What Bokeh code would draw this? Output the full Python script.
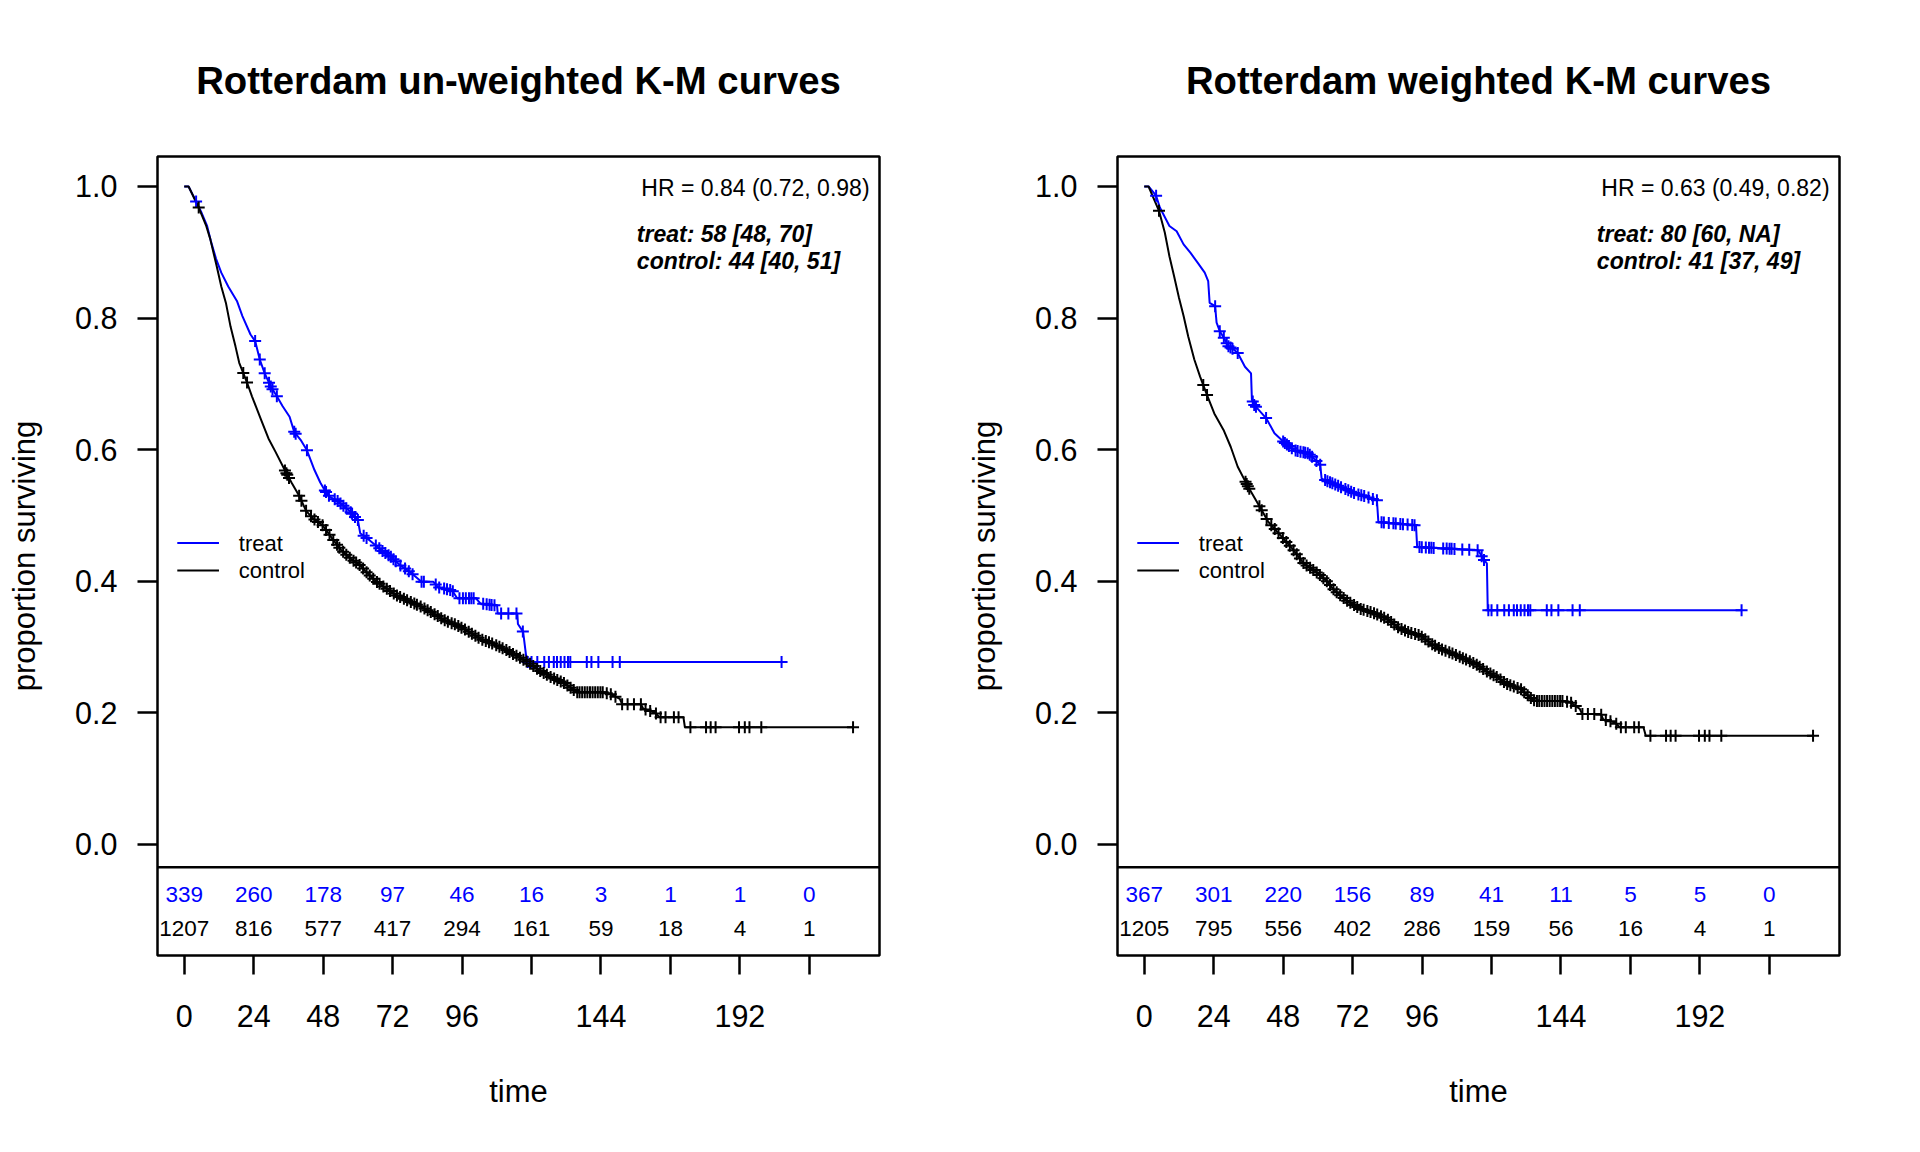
import numpy as np
from bokeh.plotting import figure
from bokeh.models import Range1d, FixedTicker, Span, NumeralTickFormatter
from bokeh.layouts import row
from bokeh.embed import file_html
from bokeh.resources import INLINE
from bokeh.core.properties import value

FONT = "Liberation Sans"

# ---------------- data ----------------
x_ticks = [0, 24, 48, 72, 96, 120, 144, 168, 192, 216]
y_ticks = [0.0, 0.2, 0.4, 0.6, 0.8, 1.0]
risk_times = [0, 24, 48, 72, 96, 120, 144, 168, 192, 216]

# left panel: un-weighted
lt_time = [0, 1.5, 4, 6, 7.9, 9.2, 11, 12.8, 15.2, 18.2, 20.1, 22.9, 24.5, 26.1, 27.8, 29.9, 32.0, 34, 36.4,
           38.0, 40.2, 42.4, 45.0, 47, 48.6, 50.3, 52.7, 56.8, 60.0, 60.8, 64.1, 68.2, 71.4, 74.7, 78.0, 82.0,
           86.1, 87.7, 92.6, 94.3, 100.8, 102.4, 108.1, 108.3, 115.1, 115.3, 117.1, 118.4, 206.4]
lt_surv = [1.0, 1.0, 0.978, 0.96, 0.94, 0.917, 0.89, 0.869, 0.848, 0.826, 0.803, 0.775, 0.765, 0.737, 0.716,
           0.696, 0.681, 0.666, 0.650, 0.627, 0.615, 0.599, 0.569, 0.55, 0.538, 0.528, 0.523, 0.508, 0.493,
           0.473, 0.462, 0.447, 0.437, 0.424, 0.414, 0.399, 0.399, 0.391, 0.386, 0.374, 0.374, 0.366, 0.363,
           0.351, 0.351, 0.335, 0.323, 0.277, 0.277]
lt_cens = [4.1, 24.5, 26.1, 27.8, 29.3, 29.9, 30.5, 32.0, 38.0, 38.5, 42.4, 48.6, 49.0, 50.0, 52.0, 53.0, 54.0,
           55.0, 56.0, 57.5, 58.0, 59.0, 60.0, 62.0, 63.0, 66.2, 67.4, 68.5, 69.5, 70.6, 71.4, 72.3, 73.1, 74.7,
           76.3, 77.6, 78.9, 82.0, 82.8, 86.9, 88.1, 89.8, 90.8, 91.9, 92.8, 95.1, 96.3, 97.3, 98.4, 99.2, 100.0,
           103.3, 104.5, 105.5, 106.2, 107.2, 109.5, 112.0, 114.8, 117.0, 118.7, 120.0, 122.0, 124.4, 126.0,
           127.7, 128.8, 130.1, 131.4, 132.6, 133.4, 139.1, 140.7, 143.1, 148.0, 150.5, 206.4]

lc_time = [0, 1.5, 5.0, 7.6, 9.0, 11.2, 12.8, 14.4, 16.0, 17.7, 19.0, 21.7, 23.4, 26.6, 29.1, 31.5, 35.3, 37.2,
           39.7, 42.1, 44.6, 47.8, 51.1, 54.3, 57.6, 60.8, 63.3, 66.5, 69.8, 73.1, 77.1, 82.0, 86.1, 90.2, 94.3,
           98.4, 102.4, 106.5, 110.6, 114.6, 118.7, 122.8, 126.8, 130.9, 134.2, 135.8, 144.8, 147.5, 150.5,
           151.3, 157.8, 158.6, 162.7, 164.3, 172.5, 173.0, 231.1]
lc_surv = [1.0, 1.0, 0.968, 0.94, 0.92, 0.879, 0.848, 0.823, 0.787, 0.757, 0.732, 0.702, 0.681, 0.645, 0.617,
           0.597, 0.564, 0.549, 0.530, 0.507, 0.495, 0.485, 0.465, 0.447, 0.434, 0.424, 0.412, 0.399, 0.389,
           0.379, 0.371, 0.361, 0.351, 0.340, 0.333, 0.323, 0.312, 0.305, 0.297, 0.287, 0.277, 0.264, 0.254,
           0.246, 0.236, 0.231, 0.231, 0.228, 0.221, 0.213, 0.213, 0.206, 0.200, 0.193, 0.193, 0.178, 0.178]
lc_cens = [5.0, 20.4, 21.7, 34.8, 35.3, 35.6, 36.2, 39.7, 40.5, 42.1, 43.8, 45.0, 46.2, 47.8, 49.0, 50.2, 51.5,
           52.8, 53.6, 54.9, 56.0, 57.2, 58.5, 59.4, 60.6, 61.8, 63.0, 64.1, 65.3, 66.6, 67.5, 68.8, 70.0, 71.1,
           72.4, 73.5, 74.6, 75.9, 77.0, 78.3, 79.5, 80.4, 81.7, 83.0, 84.1, 85.2, 86.5, 87.6, 88.8, 90.0, 91.1,
           92.4, 93.5, 94.7, 95.8, 97.0, 98.3, 99.4, 100.6, 101.7, 103.0, 104.2, 105.3, 106.4, 107.8, 108.9,
           110.0, 111.3, 112.4, 113.6, 114.8, 116.0, 117.2, 118.3, 119.5, 120.6, 121.9, 123.0, 124.2, 125.3,
           126.6, 127.8, 128.9, 130.1, 131.2, 132.4, 133.5, 134.6, 135.8, 136.6, 137.5, 138.4, 139.3, 140.2,
           141.1, 142.0, 142.9, 143.8, 144.6, 146.0, 147.4, 149.0, 151.3, 153.2, 155.4, 157.8, 159.4, 161.0,
           163.0, 164.6, 166.3, 169.2, 170.8, 174.9, 180.3, 181.9, 183.6, 191.7, 193.7, 195.3, 199.4, 231.1]

l_risk_treat = [339, 260, 178, 97, 46, 16, 3, 1, 1, 0]
l_risk_ctrl = [1207, 816, 577, 417, 294, 161, 59, 18, 4, 1]

# right panel: weighted
rt_time = [0, 1.5, 4.1, 5.4, 8.7, 11.2, 13.6, 16.0, 18.5, 20.9, 22.1, 22.6, 24.5, 25.0, 26.1, 27.5, 29.1, 31.0,
           32.3, 34.8, 36.9, 37.2, 38.0, 42.1, 45.0, 48.6, 51.9, 56.8, 59.2, 60.8, 61.3, 64.9, 69.0, 73.1, 77.1,
           80.4, 80.9, 93.9, 94.3, 115.4, 117.1, 118.4, 118.7, 206.4]
rt_surv = [1.0, 1.0, 0.986, 0.968, 0.94, 0.932, 0.912, 0.899, 0.884, 0.869, 0.856, 0.823, 0.818, 0.793, 0.780,
           0.770, 0.757, 0.752, 0.747, 0.726, 0.716, 0.676, 0.668, 0.648, 0.625, 0.610, 0.599, 0.594, 0.584,
           0.577, 0.556, 0.549, 0.541, 0.533, 0.528, 0.523, 0.490, 0.485, 0.452, 0.447, 0.434, 0.427, 0.356,
           0.356]
rt_cens = [4.1, 24.5, 26.1, 27.5, 28.5, 29.1, 29.8, 30.5, 32.3, 37.5, 38.0, 38.6, 42.1, 48.0, 48.6, 49.3, 50.0,
           51.0, 52.3, 53.0, 54.0, 55.0, 55.6, 56.5, 57.2, 58.0, 59.5, 60.8, 62.5, 63.3, 64.2, 65.0, 66.0, 67.0,
           68.0, 69.5, 70.5, 71.5, 72.5, 74.0, 75.0, 76.0, 77.5, 79.0, 80.4, 82.0, 82.8, 84.5, 86.1, 86.9, 88.5,
           89.4, 91.0, 92.6, 93.4, 95.1, 95.9, 97.3, 98.4, 99.2, 100.0, 103.3, 104.5, 105.5, 106.2, 107.2, 109.9,
           112.3, 115.2, 116.6, 117.4, 118.9, 120.0, 122.0, 124.4, 126.0, 127.7, 128.8, 130.1, 131.4, 132.6,
           133.4, 139.1, 140.7, 143.1, 148.0, 150.5, 206.4]

rc_time = [0, 1.5, 5.1, 7.1, 8.7, 10.3, 12.0, 13.6, 15.2, 17.3, 19.3, 21.7, 24.2, 27.4, 29.9, 32.3, 35.6, 40.2,
           42.9, 47.0, 51.1, 55.1, 60.0, 63.3, 65.7, 69.8, 74.7, 79.6, 83.7, 87.7, 91.0, 95.1, 99.2, 102.4, 106.5,
           110.6, 114.6, 117.9, 122.0, 125.2, 130.1, 133.4, 135.0, 144.8, 147.2, 150.5, 151.3, 157.8, 158.6,
           162.7, 164.3, 172.5, 173.3, 231.1]
rc_surv = [1.0, 1.0, 0.963, 0.930, 0.894, 0.864, 0.831, 0.803, 0.772, 0.737, 0.711, 0.683, 0.655, 0.630, 0.604,
           0.574, 0.546, 0.511, 0.490, 0.470, 0.450, 0.427, 0.412, 0.399, 0.386, 0.371, 0.358, 0.351, 0.343,
           0.330, 0.323, 0.318, 0.305, 0.297, 0.290, 0.282, 0.274, 0.264, 0.254, 0.244, 0.236, 0.223, 0.218,
           0.218, 0.216, 0.206, 0.198, 0.198, 0.190, 0.185, 0.178, 0.178, 0.165, 0.165]
rc_cens = [5.1, 20.4, 21.7, 35.0, 35.4, 35.8, 36.3, 39.8, 40.6, 42.3, 43.9, 45.1, 46.4, 47.9, 49.1, 50.3, 51.6,
           52.7, 53.8, 55.0, 56.1, 57.3, 58.4, 59.6, 60.7, 61.9, 63.1, 64.2, 65.4, 66.5, 67.7, 68.9, 70.1, 71.2,
           72.5, 73.6, 74.8, 75.8, 77.1, 78.2, 79.4, 80.5, 81.8, 82.9, 84.2, 85.3, 86.4, 87.7, 88.9, 90.1, 91.2,
           92.3, 93.6, 94.8, 95.9, 97.1, 98.2, 99.5, 100.5, 101.8, 102.9, 104.1, 105.4, 106.5, 107.7, 109.0,
           110.1, 111.2, 112.5, 113.7, 114.9, 115.9, 117.1, 118.4, 119.6, 120.7, 121.8, 123.1, 124.3, 125.4,
           126.5, 127.7, 129.0, 130.2, 131.3, 132.5, 133.6, 134.7, 135.7, 136.5, 137.4, 138.3, 139.2, 140.1,
           141.0, 141.9, 142.8, 143.7, 144.5, 146.1, 147.5, 149.1, 151.4, 153.3, 155.5, 157.9, 159.5, 161.1,
           163.1, 164.7, 166.4, 169.3, 170.9, 174.9, 180.3, 181.9, 183.6, 191.7, 193.7, 195.3, 199.4, 231.1]

r_risk_treat = [367, 301, 220, 156, 89, 41, 11, 5, 5, 0]
r_risk_ctrl = [1205, 795, 556, 402, 286, 159, 56, 16, 4, 1]

titles = ["Rotterdam un-weighted K-M curves", "Rotterdam weighted K-M curves"]
hr_texts = ["HR = 0.84 (0.72, 0.98)", "HR = 0.63 (0.49, 0.82)"]
med_treat = ["treat: 58 [48, 70]", "treat: 80 [60, NA]"]
med_ctrl = ["control: 44 [40, 51]", "control: 41 [37, 49]"]
groups = ["treat", "control"]


def make_panel(title, tt, ts, tc, ct, cs, cc, risk_t, risk_c, hr, mt, mc, bl, br):
    p = figure(frame_width=722, frame_height=799,
               min_border_left=bl, min_border_right=br, min_border_top=156, min_border_bottom=181,
               x_range=Range1d(-9.24, 240.24), y_range=Range1d(-0.169, 1.0456),
               output_backend="svg", toolbar_location=None, tools="")
    p.background_fill_color = "white"
    p.border_fill_color = "white"
    p.outline_line_color = "black"
    p.outline_line_width = 2.5
    p.outline_line_alpha = 1.0
    p.grid.visible = False

    p.title.text = title
    p.title.text_font = FONT
    p.title.text_font_size = "38.3px"
    p.title.text_font_style = "bold"
    p.title.text_color = "black"
    p.title.align = "center"
    p.title.standoff = 110

    xa = p.xaxis[0]
    xa.ticker = FixedTicker(ticks=x_ticks)
    xa.major_label_overrides = {120: "", 168: "", 216: ""}
    xa.axis_label = "time"
    xa.axis_label_text_font = FONT
    xa.axis_label_text_font_size = "31px"
    xa.axis_label_text_font_style = "normal"
    xa.axis_label_text_color = "black"
    xa.axis_label_standoff = 44
    xa.major_label_text_font = FONT
    xa.major_label_text_font_size = "30.5px"
    xa.major_label_text_color = "black"
    xa.major_label_standoff = 30
    xa.major_tick_out = 19
    xa.major_tick_in = 0
    xa.minor_tick_out = 0
    xa.minor_tick_in = 0
    xa.major_tick_line_width = 2.5
    xa.major_tick_line_color = "black"
    xa.axis_line_color = None

    ya = p.yaxis[0]
    ya.ticker = FixedTicker(ticks=y_ticks)
    ya.formatter = NumeralTickFormatter(format="0.0")
    ya.axis_label = "proportion surviving"
    ya.axis_label_text_font = FONT
    ya.axis_label_text_font_size = "31px"
    ya.axis_label_text_font_style = "normal"
    ya.axis_label_text_color = "black"
    ya.axis_label_standoff = 30
    ya.major_label_text_font = FONT
    ya.major_label_text_font_size = "30.5px"
    ya.major_label_text_color = "black"
    ya.major_label_standoff = 20
    ya.major_tick_out = 20
    ya.major_tick_in = 0
    ya.minor_tick_out = 0
    ya.minor_tick_in = 0
    ya.major_tick_line_width = 2.5
    ya.major_tick_line_color = "black"
    ya.axis_line_color = None

    # curves
    p.line(tt, ts, line_color="blue", line_width=2)
    p.line(ct, cs, line_color="black", line_width=2)
    p.scatter(tc, np.interp(tc, tt, ts), marker="cross", size=12, line_color="blue", line_width=2)
    p.scatter(cc, np.interp(cc, ct, cs), marker="cross", size=12, line_color="black", line_width=2)

    # separator of risk table
    p.add_layout(Span(location=-0.0347, dimension="width", line_color="black", line_width=2.5))

    # numbers at risk
    p.text(x=risk_times, y=[-0.0765] * len(risk_times), text=[str(v) for v in risk_t],
           text_align="center", text_baseline="alphabetic", text_font=value(FONT),
           text_font_size="22.5px", text_color="blue")
    p.text(x=risk_times, y=[-0.1273] * len(risk_times), text=[str(v) for v in risk_c],
           text_align="center", text_baseline="alphabetic", text_font=value(FONT),
           text_font_size="22.5px", text_color="black")

    # HR and medians
    p.text(x=[236.8], y=[0.9972], text=[hr], text_align="right", text_baseline="alphabetic",
           text_font=value(FONT), text_font_size="23px", text_color="black")
    p.text(x=[156.4, 156.4], y=[0.9282, 0.8867], text=[mt, mc], text_align="left",
           text_baseline="alphabetic", text_font=value(FONT), text_font_size="23px",
           text_font_style="bold italic", text_color="black")

    # legend
    p.segment(x0=[-2.4, -2.4], y0=[0.4579, 0.4162], x1=[12.0, 12.0], y1=[0.4579, 0.4162],
              line_color=["blue", "black"], line_width=2)
    p.text(x=[18.85, 18.85], y=[0.4579, 0.4162], text=groups, text_align="left",
           text_baseline="middle", text_font=value(FONT), text_font_size="22px", text_color="black")
    return p


p1 = make_panel(titles[0], lt_time, lt_surv, lt_cens, lc_time, lc_surv, lc_cens,
                l_risk_treat, l_risk_ctrl, hr_texts[0], med_treat[0], med_ctrl[0], 157, 73)
p2 = make_panel(titles[1], rt_time, rt_surv, rt_cens, rc_time, rc_surv, rc_cens,
                r_risk_treat, r_risk_ctrl, hr_texts[1], med_treat[1], med_ctrl[1], 165, 65)

layout = row(p1, p2)
open("out.html", "w").write(file_html(layout, INLINE))
